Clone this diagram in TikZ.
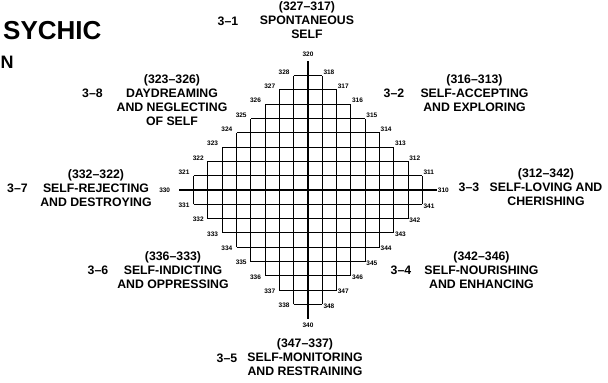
\documentclass[tikz,border=0pt]{standalone}
\usepackage{fontspec}
\setmainfont{Liberation Sans}
\begin{document}
\begin{tikzpicture}[x=1pt, y=-1pt,
    gridline/.style={line width=1pt},
    axisline/.style={line width=1.9pt},
    cnum/.style={font=\fontsize{6.5}{7}\selectfont\bfseries, inner sep=1pt},
    catlbl/.style={font=\fontsize{12.3}{14}\selectfont\bfseries, align=center, inner sep=0pt},
    catnum/.style={font=\fontsize{12.3}{14}\selectfont\bfseries, inner sep=0pt}
  ]
  \useasboundingbox (0,0) rectangle (608,383);

  % heading
  \node[font=\fontsize{26}{28}\selectfont\bfseries, anchor=base west, inner sep=0pt] (title) at (3,39) {SYCHIC};
  \node[font=\fontsize{18}{20}\selectfont\bfseries, anchor=base west, inner sep=0pt] (subtitle) at (0.5,68) {N};

  % stepped grid, one unit = one cell
  \begin{scope}[shift={(308,190)}, x=14.3pt, y=14.3pt]
    \foreach \k in {1,...,8} {
      \draw[gridline] (-9+\k,\k) -- (9-\k,\k);
      \draw[gridline] (-9+\k,-\k) -- (9-\k,-\k);
      \draw[gridline] (\k,-9+\k) -- (\k,9-\k);
      \draw[gridline] (-\k,-9+\k) -- (-\k,9-\k);
    }
    \coordinate (axN) at (0,9);
    \coordinate (axS) at (0,-9);
    \coordinate (axE) at (9,0);
    \coordinate (axW) at (-9,0);
    \draw[axisline] (axW) -- (axE);
    \draw[axisline] (axS) -- (axN);
    \node[cnum, anchor=south, yshift=4pt] (nN) at (axN) {320};
    \node[cnum, anchor=north, yshift=-3pt] (nS) at (axS) {340};
    \node[cnum, anchor=west] (nE) at (axE) {310};
    \node[cnum, anchor=east, xshift=-8pt] (nW) at (axW) {330};
    % numbers at the outer corners of the steps
    \foreach \m in {1,...,8} {
      \pgfmathtruncatemacro{\nur}{319-\m}
      \pgfmathtruncatemacro{\nul}{329-\m}
      \pgfmathtruncatemacro{\nll}{339-\m}
      \pgfmathtruncatemacro{\nlr}{349-\m}
      \node[cnum, anchor=south west] (ur\m) at (\m,9-\m) {\nur};
      \node[cnum, anchor=south east, xshift=-3pt] (ul\m) at (-\m,9-\m) {\nul};
      \node[cnum, anchor=east, xshift=-3pt, yshift=-1pt] (ll\m) at (-\m,-9+\m) {\nll};
      \node[cnum, anchor=west, yshift=-1.5pt] (lr\m) at (\m,-9+\m) {\nlr};
    }
  \end{scope}

  % the eight categories
  \node[catlbl] (cat1) at (307,20.5) {(327–317)\\SPONTANEOUS\\SELF};
  \node[catnum] (num1) at (228,21) {3–1};
  \node[catlbl] (cat2) at (474.5,93.5) {(316–313)\\SELF-ACCEPTING\\AND EXPLORING};
  \node[catnum] (num2) at (394,93.5) {3–2};
  \node[catlbl] (cat3) at (546,187.5) {(312–342)\\SELF-LOVING AND\\CHERISHING};
  \node[catnum] (num3) at (469,187.5) {3–3};
  \node[catlbl] (cat4) at (481.5,270) {(342–346)\\SELF-NOURISHING\\AND ENHANCING};
  \node[catnum] (num4) at (401,270) {3–4};
  \node[catlbl] (cat5) at (305,357.5) {(347–337)\\SELF-MONITORING\\AND RESTRAINING};
  \node[catnum] (num5) at (227,358) {3–5};
  \node[catlbl] (cat6) at (173,270) {(336–333)\\SELF-INDICTING\\AND OPPRESSING};
  \node[catnum] (num6) at (98,270) {3–6};
  \node[catlbl] (cat7) at (96,188) {(332–322)\\SELF-REJECTING\\AND DESTROYING};
  \node[catnum] (num7) at (17.5,188) {3–7};
  \node[catlbl] (cat8) at (172,100) {(323–326)\\DAYDREAMING\\AND NEGLECTING\\OF SELF};
  \node[catnum] (num8) at (92.5,93) {3–8};
\end{tikzpicture}
\end{document}
